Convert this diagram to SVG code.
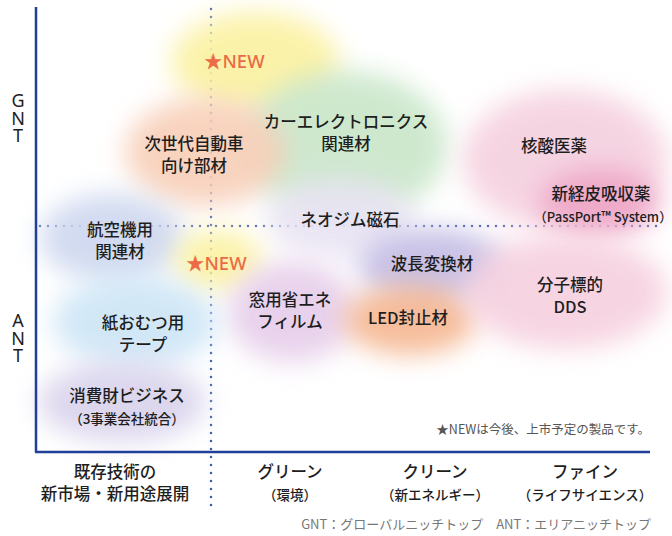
<svg xmlns="http://www.w3.org/2000/svg" width="672" height="536" viewBox="0 0 672 536">
<defs>
<filter id="blur" x="-50%" y="-50%" width="200%" height="200%"><feGaussianBlur stdDeviation="13"/></filter>
<style>
text{font-family:"Noto Sans CJK JP","Noto Sans",sans-serif;fill:#1e1e1e;}
.lbl{font-size:16.5px;text-anchor:middle;font-weight:500;}
.sub{font-size:13.5px;text-anchor:middle;font-weight:500;}
.ax{font-size:18px;font-family:"Noto Sans","Noto Sans CJK JP",sans-serif;writing-mode:vertical-rl;text-orientation:upright;letter-spacing:-6.5px;}
.new{font-size:18.5px;fill:#ea6b45;font-weight:500;font-family:"Noto Sans","Noto Sans CJK JP",sans-serif;}
.note{font-size:12.5px;fill:#555;}
.axis{stroke:#1f3f99;stroke-width:2.5;fill:none;}
.dot{stroke:#3a5bb5;stroke-width:2.5;stroke-linecap:round;stroke-dasharray:0 8;fill:none;}
.blob{filter:url(#blur);opacity:0.9;}
</style>
</defs>
<g id="connectors">
<line class="dot" x1="211" y1="9" x2="211" y2="512"/>
<line class="dot" x1="40" y1="226" x2="662" y2="226"/>
</g>
<g id="blobs">
<ellipse class="blob" cx="255" cy="62" rx="84" ry="50" fill="#fbf1a0"/>
<ellipse class="blob" cx="345" cy="145" rx="102" ry="74" fill="#c9e6c9"/>
<ellipse class="blob" cx="205" cy="152" rx="80" ry="54" fill="#f8cfb8"/>
<ellipse class="blob" cx="112" cy="238" rx="72" ry="44" fill="#cdd7ef"/>
<ellipse class="blob" cx="340" cy="218" rx="74" ry="40" fill="#e8e3f3"/>
<ellipse class="blob" cx="218" cy="260" rx="44" ry="30" fill="#fbf1a0"/>
<ellipse class="blob" cx="432" cy="266" rx="74" ry="38" fill="#c3bce4"/>
<ellipse class="blob" cx="292" cy="312" rx="64" ry="50" fill="#e6cdea"/>
<ellipse class="blob" cx="410" cy="320" rx="66" ry="35" fill="#f5b690"/>
<ellipse class="blob" cx="565" cy="160" rx="102" ry="70" fill="#f5d0df"/>
<ellipse class="blob" cx="600" cy="202" rx="60" ry="34" fill="#eea6c6"/>
<ellipse class="blob" cx="565" cy="292" rx="102" ry="57" fill="#f6d0df"/>
<ellipse class="blob" cx="135" cy="322" rx="82" ry="46" fill="#cde5f6"/>
<ellipse class="blob" cx="122" cy="402" rx="84" ry="40" fill="#d9d3ec"/>
</g>
<g id="axes">
<line class="axis" x1="36" y1="7" x2="36" y2="452"/>
<line class="axis" x1="35" y1="452" x2="650" y2="452"/>
<text class="ax" x="18" y="88">GNT</text>
<text class="ax" x="18" y="308">ANT</text>
</g>
<g id="new1"><text class="new" x="204" y="68">★NEW</text></g>
<g id="new2"><text class="new" x="186" y="270">★NEW</text></g>
<g id="jisedai"><text class="lbl" x="194" y="150">次世代自動車</text><text class="lbl" x="194" y="172">向け部材</text></g>
<g id="carelec"><text class="lbl" x="346" y="128">カーエレクトロニクス</text><text class="lbl" x="346" y="150">関連材</text></g>
<g id="kakusan"><text class="lbl" x="554" y="152">核酸医薬</text></g>
<g id="keihi"><text class="lbl" x="601" y="200">新経皮吸収薬</text><text class="sub" x="603" y="222" style="font-size:13px">（PassPort™ System）</text></g>
<g id="neojimu"><text class="lbl" x="350" y="226">ネオジム磁石</text></g>
<g id="kouku"><text class="lbl" x="120" y="236">航空機用</text><text class="lbl" x="120" y="258">関連材</text></g>
<g id="hachou"><text class="lbl" x="432" y="270">波長変換材</text></g>
<g id="bunshi"><text class="lbl" x="570" y="291">分子標的</text><text class="lbl" x="570" y="313">DDS</text></g>
<g id="mado"><text class="lbl" x="290" y="306">窓用省エネ</text><text class="lbl" x="290" y="328">フィルム</text></g>
<g id="led"><text class="lbl" x="408" y="324">LED封止材</text></g>
<g id="kami"><text class="lbl" x="143" y="329">紙おむつ用</text><text class="lbl" x="143" y="351">テープ</text></g>
<g id="shouhi"><text class="lbl" x="127" y="402">消費財ビジネス</text><text class="sub" x="127" y="424">（3事業会社統合）</text></g>
<g id="note"><text class="note" x="650" y="434" text-anchor="end">★NEWは今後、上市予定の製品です。</text></g>
<g id="cat1"><text class="lbl" x="115" y="478">既存技術の</text><text class="lbl" x="115" y="500">新市場・新用途展開</text></g>
<g id="cat2"><text class="lbl" x="290" y="478">グリーン</text><text class="sub" x="290" y="500">（環境）</text></g>
<g id="cat3"><text class="lbl" x="435" y="478">クリーン</text><text class="sub" x="435" y="500">（新エネルギー）</text></g>
<g id="cat4"><text class="lbl" x="585" y="478">ファイン</text><text class="sub" x="585" y="500">（ライフサイエンス）</text></g>
<g id="legend"><text class="note" x="651" y="529" text-anchor="end" style="fill:#777;font-size:13px">GNT：グローバルニッチトップ　ANT：エリアニッチトップ</text></g>
</svg>
